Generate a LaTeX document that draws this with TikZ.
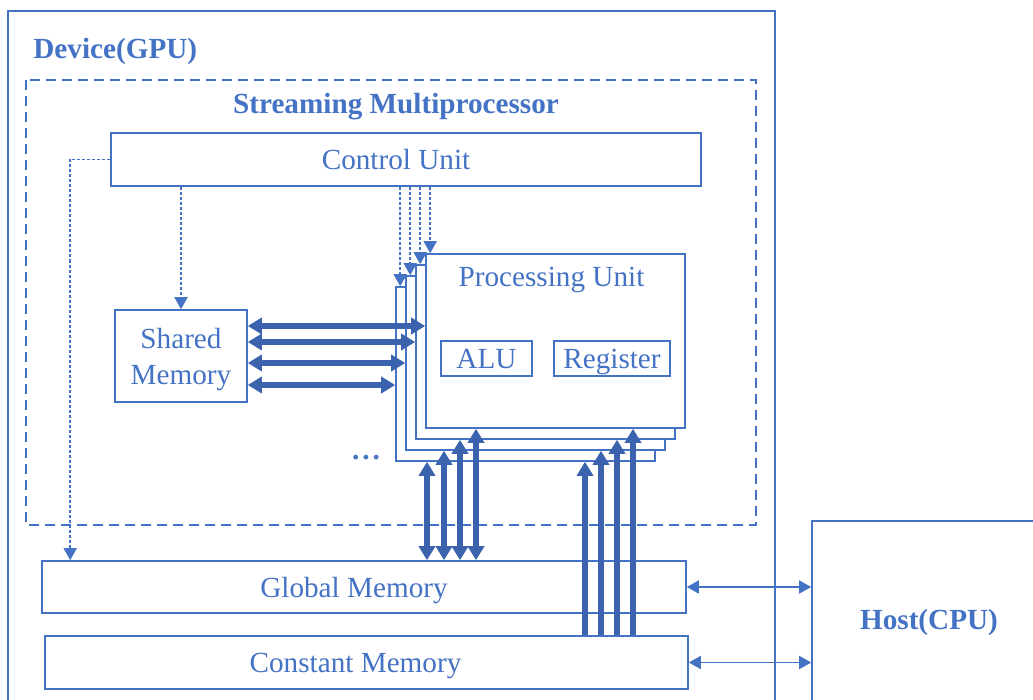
\documentclass[tikz,border=0pt]{standalone}
\usepackage{fontspec}
\setmainfont{Liberation Serif}
\usepackage{tikz}
\usetikzlibrary{positioning, arrows.meta}
\definecolor{gblue}{HTML}{4472C4}
\definecolor{busblue}{HTML}{3B62AD}

\begin{document}
\begin{tikzpicture}[
    x=0.5pt, y=-0.5pt,
    font=\fontsize{14.6}{18}\selectfont,
    boxnode/.style={rectangle, draw=gblue, line width=0.8pt, inner sep=0pt, text=gblue, fill=white},
    punode/.style={boxnode, minimum width=129.5pt, minimum height=87pt},
    textnode/.style={text=gblue, inner sep=0pt, text depth=0pt},
    titlenode/.style={textnode, font=\fontsize{14.6}{18}\selectfont\bfseries},
    ctrlarrow/.style={gblue, line width=0.8pt, dash pattern=on 1.5pt off 1pt, -{Triangle[length=6pt, width=6.5pt]}},
    busarrow/.style={busblue, line width=2.8pt, -{Triangle[length=7pt, width=8pt]}},
    dbusarrow/.style={busarrow, {Triangle[length=7pt, width=8pt]}-{Triangle[length=7pt, width=8pt]}},
    hostarrow/.style={gblue, line width=0.8pt, {Triangle[length=6pt, width=6.5pt]}-{Triangle[length=6pt, width=6.5pt]}},
]
\useasboundingbox (0,0) rectangle (1033,700);
\clip (0,0) rectangle (1033,700);

\draw[gblue, line width=0.8pt] (8,11) rectangle (775,720);
\node[titlenode, anchor=west](devtitle) at (33,48) {Device(GPU)};
\draw[gblue, line width=0.8pt, dash pattern=on 5pt off 3pt] (26,80) rectangle (756,525);
\node[titlenode](smtitle) at (396,103) {Streaming Multiprocessor};

\node[boxnode, minimum width=295pt, minimum height=26.5pt](cu) at (406,159.5) {};
\node[textnode](cutext) at ([xshift=-5pt]cu.center) {Control Unit};
\node[boxnode, minimum width=66pt, minimum height=46pt](shm) at (181,356) {};
\node[textnode, align=center](shmtext) at (shm.center) {Shared\\Memory};

\foreach \i in {4,3,2,1}
    \node[punode](pu\i) at ({555.5-10*(\i-1)}, {341+11*(\i-1)}) {};
\node[textnode](putext) at ([xshift=-2pt, yshift=-12pt]pu1.north) {Processing Unit};
\node[boxnode, minimum width=45.5pt, minimum height=17.5pt](alu) at (486.5,358.5) {};
\node[textnode](alutext) at (alu.center) {ALU};
\node[boxnode, minimum width=58pt, minimum height=17.5pt](reg) at (612,358.5) {};
\node[textnode](regtext) at (reg.center) {Register};
\node[textnode](dots) at (366,457) {\textbf{.\kern1.5pt.\kern1.5pt.}};

\node[boxnode, minimum width=322pt, minimum height=26pt](glob) at (364,587) {};
\node[textnode](globtext) at ([xshift=-5pt]glob.center) {Global Memory};
\node[boxnode, minimum width=321.5pt, minimum height=26.5pt](const) at (366.5,662.5) {};
\node[textnode](consttext) at ([xshift=-5.5pt]const.center) {Constant Memory};
\node[boxnode, minimum width=117pt, minimum height=98pt](host) at (929,619) {};
\node[titlenode](hosttext) at (host.center) {Host(CPU)};

\draw[ctrlarrow] (cu.south -| shm.north) -- (shm.north);
\draw[ctrlarrow] (cu.west) -| ([xshift=14.5pt]glob.north west);
\foreach \i in {1,...,4} {
    \coordinate (pt\i) at ([xshift=2.5pt]pu\i.north west);
    \draw[ctrlarrow] (pt\i |- cu.south) -- (pt\i);
}

\foreach \i/\yy in {1/326, 2/342, 3/363, 4/385} {
    \coordinate (h\i) at (0,\yy);
    \draw[dbusarrow] (shm.east |- h\i) -- (pu\i.west |- h\i);
}
\foreach \i/\xx in {1/476, 2/460, 3/444, 4/427} {
    \coordinate (v\i) at (\xx,0);
    \draw[dbusarrow] (v\i |- glob.north) -- (v\i |- pu\i.south);
}
\foreach \i/\xx in {1/633, 2/617, 3/601, 4/585} {
    \coordinate (c\i) at (\xx,0);
    \draw[busarrow] (c\i |- const.north) -- (c\i |- pu\i.south);
}

\draw[hostarrow] (glob.east) -- (glob.east -| host.west);
\draw[hostarrow] (const.east) -- (const.east -| host.west);
\end{tikzpicture}
\end{document}
